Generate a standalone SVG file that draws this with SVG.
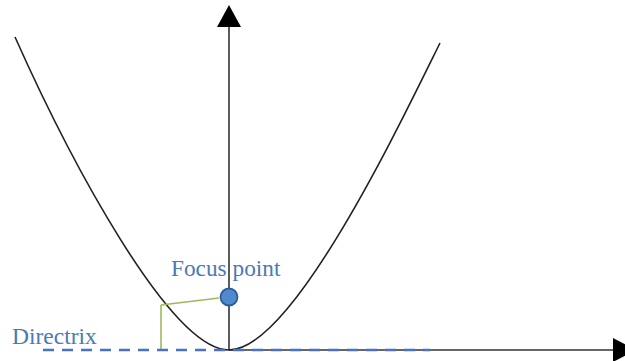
<svg xmlns="http://www.w3.org/2000/svg" width="625" height="361" viewBox="0 0 625 361">
<style>
.axis{stroke:#333;stroke-width:1.6;fill:none}
.head{fill:#000}
.curve{stroke:#222;stroke-width:1.6;fill:none}
.green{stroke:#9bbb59;stroke-width:1.6;fill:none}
.dir{stroke:#4a72c4;stroke-width:2.5;stroke-dasharray:11 8;fill:none}
.lbl{font-family:"Liberation Serif",serif;fill:#4a7ab5}
</style>
<rect width="625" height="361" fill="#fff"/>
<g id="connectors">
<line class="axis" x1="229" y1="350" x2="229" y2="25"/>
<polygon class="head" points="229,5 217,27 241,27"/>
<line class="axis" x1="229" y1="350" x2="615" y2="350"/>
<polygon class="head" points="636,350 613,338 613,362"/>
</g>
<g id="parabola">
<path class="curve" d="M15,37 C69,158 170,350 229,350 C292,350 397,130 440,43"/>
</g>
<g id="distance">
<line class="green" x1="161" y1="305" x2="219" y2="298"/>
<line class="green" x1="161" y1="305" x2="161" y2="349"/>
</g>
<g id="directrix">
<line class="dir" x1="43" y1="350" x2="430" y2="350"/>
<text class="lbl" x="12" y="344" font-size="23.5" fill="#5b89c8">Directrix</text>
</g>
<g id="focus">
<circle cx="229" cy="297" r="8.5" fill="#4f8ad0" stroke="#2e5d96" stroke-width="1.8"/>
<text class="lbl" x="171" y="276" font-size="23.3">Focus point</text>
</g>
</svg>
